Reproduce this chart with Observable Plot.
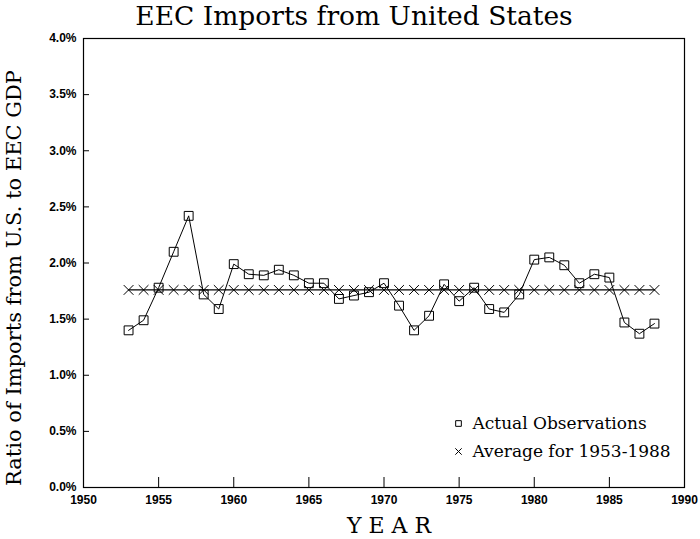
<!DOCTYPE html>
<html><head><meta charset="utf-8">
<script src="https://cdn.jsdelivr.net/npm/d3@7"></script>
<script src="https://cdn.jsdelivr.net/npm/@observablehq/plot@0.6"></script>
<style>body{margin:0;background:#fff}</style>
</head><body><div id="chart"></div>
<script>
const years = [1953,1954,1955,1956,1957,1958,1959,1960,1961,1962,1963,1964,1965,1966,1967,1968,1969,1970,1971,1972,1973,1974,1975,1976,1977,1978,1979,1980,1981,1982,1983,1984,1985,1986,1987,1988];
const ratio = [1.40,1.49,1.78,2.10,2.42,1.72,1.59,1.99,1.90,1.89,1.94,1.89,1.82,1.82,1.68,1.71,1.74,1.82,1.62,1.40,1.53,1.81,1.66,1.78,1.59,1.56,1.72,2.03,2.05,1.98,1.82,1.90,1.87,1.47,1.37,1.46];
const averageValue = 1.76;
const xTicks = [1950,1955,1960,1965,1970,1975,1980,1985,1990];
const yTicks = [0,0.5,1.0,1.5,2.0,2.5,3.0,3.5,4.0];
const title = "EEC Imports from United States";
const yLabel = "Ratio of Imports from U.S. to EEC GDP";
const xLabel = "Y E A R";
const legendLabels = ["Actual Observations", "Average for 1953-1988"];

const obs = years.map((year, i) => ({year, value: ratio[i]}));
const avg = years.map(year => ({year, value: averageValue}));

const serif = "'DejaVu Serif', serif";
const sans = "'Liberation Sans', Arial, sans-serif";
const W = 700, H = 539, ML = 83, MR = 16, MT = 38, MB = 52;
const frameW = W - ML - MR, frameH = H - MT - MB;

const chart = Plot.plot({
  width: W, height: H,
  marginLeft: ML, marginRight: MR, marginTop: MT, marginBottom: MB,
  style: {background: "white", color: "black", overflow: "visible"},
  x: {domain: [1950, 1990], label: null},
  y: {domain: [0, 4], label: null},
  marks: [
    Plot.frame({stroke: "black", strokeWidth: 1.2}),
    Plot.tickX(xTicks, {x: d => d, insetTop: frameH - 10, stroke: "black", strokeWidth: 1}),
    Plot.tickY(yTicks, {y: d => d, insetRight: frameW - 6, stroke: "black", strokeWidth: 1}),
    Plot.axisX({ticks: xTicks, tickSize: 0, tickPadding: 8, tickFormat: d => String(d), fontWeight: "bold", fontSize: 12, fontFamily: sans, label: null}),
    Plot.axisY({ticks: yTicks, tickSize: 0, tickPadding: 7, tickFormat: d => d.toFixed(1) + "%", fontWeight: "bold", fontSize: 12, fontFamily: sans, label: null}),
    Plot.line(avg, {x: "year", y: "value", stroke: "black", strokeWidth: 1.2}),
    Plot.dot(avg, {x: "year", y: "value", symbol: "times", r: 4.5, stroke: "black", strokeWidth: 1}),
    Plot.line(obs, {x: "year", y: "value", stroke: "black", strokeWidth: 1}),
    Plot.dot(obs, {x: "year", y: "value", symbol: "square", r: 5, stroke: "black", fill: "none", strokeWidth: 1}),
    // legend
    Plot.dot([legendLabels[0]], {frameAnchor: "top-left", dx: 375, dy: 385, symbol: "square", r: 3.2, stroke: "black", fill: "none", strokeWidth: 1}),
    Plot.dot([legendLabels[1]], {frameAnchor: "top-left", dx: 375, dy: 413, symbol: "times", r: 3, stroke: "black", strokeWidth: 1}),
    Plot.text([legendLabels[0]], {text: d => d, frameAnchor: "top-left", dx: 389, dy: 385, textAnchor: "start", lineAnchor: "middle", fontSize: 17, fontFamily: serif, fill: "black"}),
    Plot.text([legendLabels[1]], {text: d => d, frameAnchor: "top-left", dx: 389, dy: 413, textAnchor: "start", lineAnchor: "middle", fontSize: 17, fontFamily: serif, fill: "black"}),
    // titles
    Plot.text([title], {text: d => d, frameAnchor: "top", dx: -30, dy: -22, textAnchor: "middle", lineAnchor: "middle", fontSize: 26.5, fontFamily: serif, fill: "black"}),
    Plot.text([yLabel], {text: d => d, frameAnchor: "left", rotate: -90, dx: -69, dy: 15, textAnchor: "middle", lineAnchor: "middle", fontSize: 21, fontFamily: serif, fill: "black"}),
    Plot.text([xLabel], {text: d => d, frameAnchor: "bottom", dx: 5, dy: 38, textAnchor: "middle", lineAnchor: "middle", fontSize: 22, fontFamily: serif, fill: "black"})
  ]
});
document.getElementById("chart").appendChild(chart);
</script>
</body></html>
